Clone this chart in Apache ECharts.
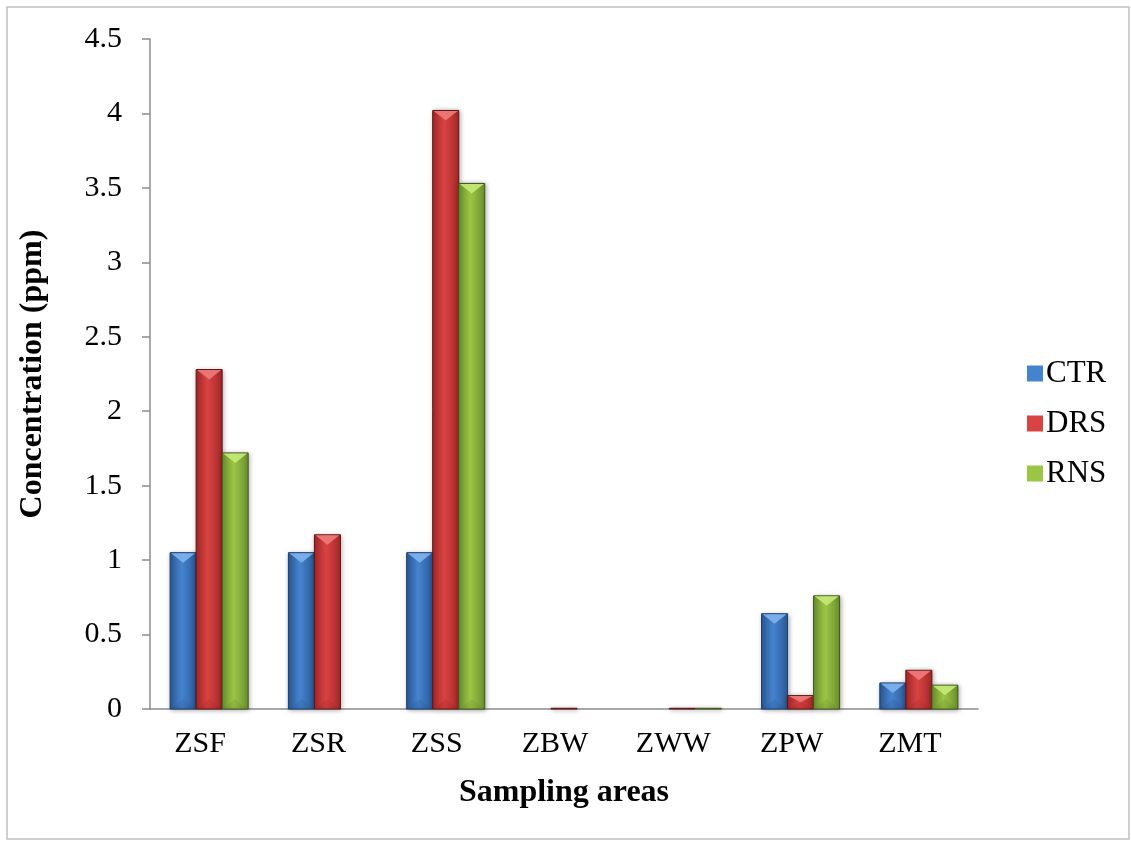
<!DOCTYPE html>
<html>
<head>
<meta charset="utf-8">
<script src="https://cdn.jsdelivr.net/npm/echarts@6/dist/echarts.min.js"></script>
<style>
  html, body { margin: 0; padding: 0; background: #fff; }
  #chart { width: 1131px; height: 841px; }
</style>
</head>
<body>
<div id="chart"></div>
<script>
const categories = ['ZSF', 'ZSR', 'ZSS', 'ZBW', 'ZWW', 'ZPW', 'ZMT']
const ctr = [1.05, 1.05, 1.05, 0, 0, 0.64, 0.175]
const drs = [2.28, 1.17, 4.02, 0.005, 0.005, 0.09, 0.26]
const rns = [1.72, 0, 3.53, 0, 0.005, 0.76, 0.16]
const yTicks = [0, 0.5, 1, 1.5, 2, 2.5, 3, 3.5, 4, 4.5]

const font = '"Liberation Serif", "Times New Roman", serif'

// colours per series: edge (dark side), mid (face), light (bevel top), border
const palette = {
  CTR: { edge: '#2a5a98', mid: '#4683cf', light: '#7fb4f0', border: '#1c3f6c' },
  DRS: { edge: '#a62828', mid: '#d84343', light: '#f07a7a', border: '#5e1414' },
  RNS: { edge: '#6c9130', mid: '#9bc544', light: '#c7ea78', border: '#3e5619' }
}

// bevelled bar, positioned through the category scale
const bevelBar = (slot, colors) => (params, api) => {
  const value = api.value(1)
  if (!value) return
  const band = api.size([1, 0])[0]
  const w = band * 0.22
  const top = api.coord([api.value(0), value])
  const base = api.coord([api.value(0), 0])
  const x0 = top[0] + (slot - 1.5) * w
  const x1 = x0 + w
  const h = base[1] - top[1]
  const bev = Math.min(10, h / 2)
  const xc = (x0 + x1) / 2
  return {
    type: 'group',
    children: [
      {
        type: 'rect',
        shape: { x: x0, y: top[1], width: w, height: h },
        style: {
          fill: new echarts.graphic.LinearGradient(0, 0, 1, 0, [
            { offset: 0, color: colors.edge },
            { offset: 0.45, color: colors.mid },
            { offset: 1, color: colors.edge }
          ]),
          stroke: colors.border,
          lineWidth: 1,
          shadowColor: 'rgba(0,0,0,0.35)',
          shadowBlur: 5,
          shadowOffsetX: 1,
          shadowOffsetY: 1
        }
      },
      {
        type: 'polygon',
        shape: { points: [[x0 + 1, top[1] + 0.5], [x1 - 1, top[1] + 0.5], [xc, top[1] + bev]] },
        style: { fill: colors.light, opacity: 0.9 }
      },
      {
        type: 'polygon',
        shape: { points: [[x0 + 1, base[1]], [x1 - 1, base[1]], [xc, base[1] - bev]] },
        style: { fill: colors.edge, opacity: 0.25 }
      }
    ]
  }
}

const makeSeries = (name, values, slot) => ({
  name,
  type: 'custom',
  renderItem: bevelBar(slot, palette[name]),
  itemStyle: { color: palette[name].mid, borderColor: palette[name].border },
  encode: { x: 0, y: 1 },
  data: values.map((v, i) => [i, v])
})

const chart = echarts.init(document.getElementById('chart'))

chart.setOption({
  animation: false,
  textStyle: { fontFamily: font },
  graphic: [{
    type: 'rect',
    shape: { x: 7, y: 7, width: 1122, height: 832 },
    style: { fill: 'none', stroke: '#bfbfbf', lineWidth: 1.5 }
  }],
  legend: {
    orient: 'vertical',
    left: 1022,
    top: 353,
    itemWidth: 16,
    itemHeight: 16,
    itemGap: 19,
    icon: 'rect',
    textStyle: { fontFamily: font, fontSize: 31, color: '#000', padding: [0, 0, 0, -2] },
    data: ['CTR', 'DRS', 'RNS']
  },
  grid: { left: 150, right: 153, top: 39, bottom: 132 },
  xAxis: {
    type: 'category',
    data: categories,
    name: 'Sampling areas',
    nameLocation: 'middle',
    nameGap: 68,
    nameTextStyle: { fontFamily: font, fontSize: 32, fontWeight: 'bold', color: '#000' },
    axisLine: { lineStyle: { color: '#8c8c8c', width: 1.5 } },
    axisTick: { length: 9, lineStyle: { color: '#8c8c8c', width: 1.5 } },
    axisLabel: { fontFamily: font, fontSize: 30, color: '#000', margin: 20, padding: [0, 18, 0, 0] }
  },
  yAxis: {
    type: 'value',
    min: 0,
    max: 4.5,
    interval: 0.5,
    name: 'Concentration (ppm)',
    nameLocation: 'middle',
    nameGap: 101,
    nameTextStyle: { fontFamily: font, fontSize: 32, fontWeight: 'bold', color: '#000' },
    axisLine: { show: true, lineStyle: { color: '#8c8c8c', width: 1.5 } },
    axisTick: { show: true, length: 8, lineStyle: { color: '#8c8c8c', width: 1.5 } },
    splitLine: { show: false },
    axisLabel: {
      fontFamily: font, fontSize: 30, color: '#000', margin: 28,
      formatter: v => yTicks.includes(v) ? String(v) : ''
    }
  },
  series: [
    makeSeries('CTR', ctr, 0),
    makeSeries('DRS', drs, 1),
    makeSeries('RNS', rns, 2)
  ]
})
</script>
</body>
</html>
